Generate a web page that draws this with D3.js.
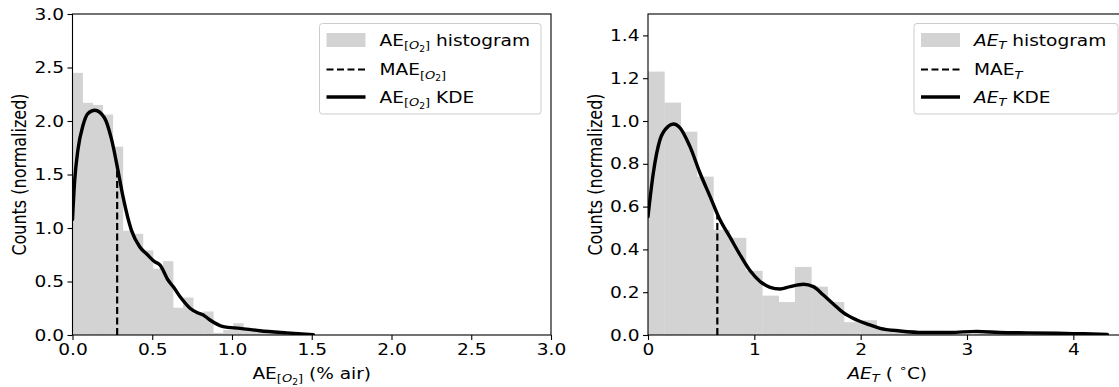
<!DOCTYPE html>
<html><head><meta charset="utf-8">
<script src="https://cdn.jsdelivr.net/npm/d3@7"></script>
<style>body{margin:0;background:#fff} text{font-family:"DejaVu Sans",sans-serif;fill:#000}</style>
</head><body><svg id="c" width="1119" height="387" style="background:#fff"></svg>
<script>
// ---------- Panel 1: oxygen absolute error ----------
const oxyBinWidth = 0.063;
const oxyHist = [2.45,2.17,2.15,2.06,1.76,0.975,0.945,0.79,0.62,0.69,0.255,0.35,0.2,0.22,0.02,0.047,0.11,0.05,0.04,0.03,0.03,0.02,0.01,0.01];
const oxyKdeX = [0,0.014,0.034,0.066,0.097,0.14,0.2,0.243,0.285,0.317,0.369,0.421,0.47,0.515,0.549,0.599,0.632,0.682,0.737,0.78,0.82,0.862,0.945,1.05,1.175,1.343,1.51];
const oxyKdeY = [1.08,1.45,1.73,1.96,2.07,2.1,2.03,1.84,1.54,1.29,0.98,0.825,0.75,0.685,0.654,0.514,0.45,0.343,0.25,0.21,0.187,0.14,0.078,0.062,0.04,0.02,0.003];
const oxyMae = 0.28, oxyMaeTop = 1.58;
const oxyTicksX = [0,0.5,1,1.5,2,2.5,3];
const oxyTicksY = [0,0.5,1,1.5,2,2.5,3];

// ---------- Panel 2: temperature absolute error ----------
const tempBinWidth = 0.1535;
const tempHist = [1.231,1.086,0.95,0.74,0.492,0.454,0.3,0.184,0.154,0.318,0.226,0.154,0.06,0.069,0.03,0.012,0.01,0.005,0.005,0.002,0.01,0.01,0.005,0.002,0.005,0.002,0.002,0.004];
const tempKdeX = [0,0.05,0.113,0.191,0.238,0.301,0.395,0.489,0.583,0.677,0.771,0.865,0.959,1.054,1.148,1.242,1.336,1.461,1.555,1.649,1.743,1.837,1.963,2.088,2.183,2.37,2.59,2.84,3.09,3.31,3.57,3.85,4.06,4.32];
const tempKdeY = [0.554,0.757,0.913,0.975,0.986,0.968,0.88,0.757,0.648,0.538,0.457,0.375,0.301,0.25,0.223,0.215,0.226,0.237,0.226,0.187,0.145,0.104,0.07,0.047,0.031,0.019,0.012,0.012,0.017,0.012,0.01,0.008,0.006,0.003];
const tempMae = 0.652, tempMaeTop = 0.57;
const tempTicksX = [0,1,2,3,4];
const tempTicksY = [0,0.2,0.4,0.6,0.8,1.0,1.2,1.4];

const FS = 16, SUB = 11.2, SUBSUB = 7.9, HX = 1.16;
const svg = d3.select('#c');

function rich(sel, segs){
  let cur = 0;
  segs.forEach(s => {
    let target = 0, size = FS;
    if (s.k === 'sub'){ target = 3.8; size = SUB; }
    else if (s.k === 'subsub'){ target = 6.2; size = SUBSUB; }
    else if (s.k === 'sup'){ target = -6.5; size = SUB; }
    const t = sel.append('tspan').attr('dy', target - cur).style('font-size', size + 'px').text(s.t);
    if (s.i) t.style('font-style', 'italic');
    cur = target;
  });
}
function stext(parent, x, y, anchor){
  return parent.append('text').attr('transform', `translate(${x},${y}) scale(${HX},1)`)
    .attr('text-anchor', anchor || 'start');
}

const O2 = (tail) => [{t:'AE'},{t:'[',k:'sub'},{t:'O',k:'sub',i:true},{t:'2',k:'subsub'},{t:']',k:'sub'},{t:tail}];
const T2 = (tail, italicAE) => [{t: italicAE ? 'AE' : 'MAE', i: italicAE},{t:'T',k:'sub',i:true},{t:tail}];

function panel(o){
  const g = svg.append('g');
  const x = d3.scaleLinear().domain(o.xDomain).range([o.left, o.right]);
  const y = d3.scaleLinear().domain(o.yDomain).range([335, 14]);
  const cid = 'clip' + o.id;
  svg.append('clipPath').attr('id', cid).append('rect')
    .attr('x', o.left).attr('y', 14).attr('width', o.right - o.left).attr('height', 321);
  const plot = g.append('g').attr('clip-path', `url(#${cid})`);
  plot.selectAll('rect.bar').data(o.hist).join('rect').attr('class','bar')
    .attr('x', (d,i) => x(i*o.bw))
    .attr('width', (d,i) => x((i+1)*o.bw) - x(i*o.bw) + 0.4)
    .attr('y', d => y(d)).attr('height', d => y(0) - y(d))
    .attr('fill', '#d3d3d3');
  plot.append('line').attr('x1', x(o.mae)).attr('x2', x(o.mae))
    .attr('y1', y(0)).attr('y2', y(o.maeTop))
    .attr('stroke', '#000').attr('stroke-width', 2.2).attr('stroke-dasharray', '7,3.5');
  const pts = o.kx.map((v,i) => [v, o.ky[i]]);
  plot.append('path').datum(pts)
    .attr('d', d3.line().x(d => x(d[0])).y(d => y(d[1])).curve(d3.curveMonotoneX))
    .attr('fill', 'none').attr('stroke', '#000').attr('stroke-width', 3.4)
    .attr('stroke-linejoin', 'round').attr('stroke-linecap', 'round');

  const ax = g.append('g').attr('transform', 'translate(0,335)')
    .call(d3.axisBottom(x).tickValues(o.xt).tickFormat(o.xf).tickSize(5).tickPadding(3.5).tickSizeOuter(0));
  const ay = g.append('g').attr('transform', `translate(${o.left},0)`)
    .call(d3.axisLeft(y).tickValues(o.yt).tickFormat(d3.format('.1f')).tickSize(5).tickPadding(3.5).tickSizeOuter(0));
  [ax, ay].forEach(a => {
    a.select('.domain').remove();
    a.selectAll('text').style('font-size', FS + 'px').style('font-family', '"DejaVu Sans",sans-serif').attr('fill', '#000');
    a.selectAll('line').attr('stroke', '#000').attr('stroke-width', 1.1);
  });
  ax.selectAll('text').attr('transform', `scale(${HX},1)`);
  ay.selectAll('text').attr('x', 0).attr('transform', `translate(-8.5,0) scale(${HX},1)`);
  g.append('rect').attr('x', o.left).attr('y', 14).attr('width', o.right - o.left).attr('height', 321)
    .attr('fill', 'none').attr('stroke', '#000').attr('stroke-width', 1.1);

  // axis labels
  rich(stext(g, (o.left + o.right)/2, 378.5, 'middle'), o.xlabel);
  g.append('text').attr('transform', `translate(${o.ylabX},174.5) scale(${HX},1) rotate(-90)`)
    .attr('text-anchor', 'middle').style('font-size', FS + 'px').text('Counts (normalized)');

  // legend
  const lg = g.append('g');
  lg.append('rect').attr('x', o.lx).attr('y', 23.5).attr('width', o.lw).attr('height', 90.5)
    .attr('rx', 3).attr('fill', '#fff').attr('fill-opacity', 0.8).attr('stroke', '#cccccc').attr('stroke-width', 1);
  const hx = o.lx + 7, hw = 39, tx = o.lx + 60;
  const rows = [40, 69.5, 97];
  lg.append('rect').attr('x', hx).attr('y', rows[0] - 7).attr('width', hw).attr('height', 14).attr('fill', '#d3d3d3');
  lg.append('line').attr('x1', hx).attr('x2', hx + hw).attr('y1', rows[1]).attr('y2', rows[1])
    .attr('stroke', '#000').attr('stroke-width', 2.2).attr('stroke-dasharray', '7,3.5');
  lg.append('line').attr('x1', hx).attr('x2', hx + hw).attr('y1', rows[2]).attr('y2', rows[2])
    .attr('stroke', '#000').attr('stroke-width', 3.4);
  o.legend.forEach((segs, i) => rich(stext(lg, tx, rows[i] + 5.5), segs));
}

panel({id: 1, left: 72.5, right: 551, xDomain: [0, 3], yDomain: [0, 3],
  hist: oxyHist, bw: oxyBinWidth, kx: oxyKdeX, ky: oxyKdeY, mae: oxyMae, maeTop: oxyMaeTop,
  xt: oxyTicksX, xf: d3.format('.1f'), yt: oxyTicksY, ylabX: 25.5,
  xlabel: O2(' (% air)'), lx: 319.5, lw: 221.5,
  legend: [O2(' histogram'), [{t:'MAE'},{t:'[',k:'sub'},{t:'O',k:'sub',i:true},{t:'2',k:'subsub'},{t:']',k:'sub'}], O2(' KDE')]});

panel({id: 2, left: 648, right: 1126.5, xDomain: [0, 4.5], yDomain: [0, 1.5],
  hist: tempHist, bw: tempBinWidth, kx: tempKdeX, ky: tempKdeY, mae: tempMae, maeTop: tempMaeTop,
  xt: tempTicksX, xf: d3.format('d'), yt: tempTicksY, ylabX: 601.5,
  xlabel: [{t:'AE',i:true},{t:'T',k:'sub',i:true},{t:' ( '},{t:'\u2218',k:'sup'},{t:'C)'}], lx: 914, lw: 204,
  legend: [T2(' histogram', true), T2('', false), T2(' KDE', true)]});
</script></body></html>
